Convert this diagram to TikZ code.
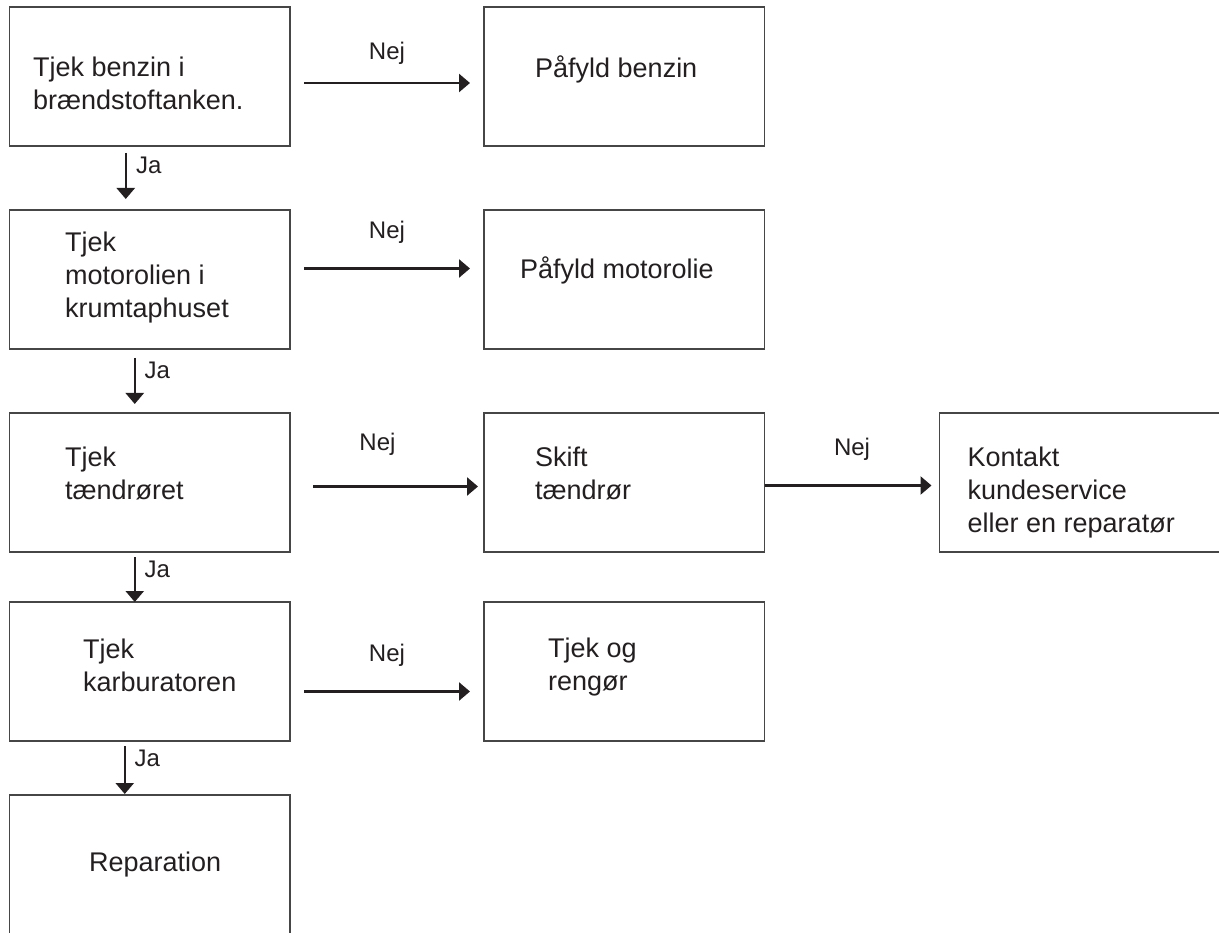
\documentclass[tikz,border=0pt]{standalone}
\usepackage{fontspec}
\setmainfont{Liberation Sans}
\usetikzlibrary{arrows.meta, positioning}
\definecolor{ink}{RGB}{35, 31, 32}
\definecolor{frame}{RGB}{70, 70, 70}

\begin{document}
\begin{tikzpicture}[
        x=1pt, y=-1pt,
        node distance=64pt and 194pt,
        box/.style={rectangle, draw=frame, line width=1.3pt, inner sep=0pt, outer sep=0pt,
                    minimum width=280.5pt, minimum height=139pt},
        txt/.style={anchor=base west, inner sep=0pt, align=left, text=ink,
                    font=\fontsize{27}{33}\selectfont},
        lbl/.style={inner sep=0pt, text=ink, font=\fontsize{24}{28}\selectfont},
        arrow/.style={-{Triangle[length=11pt, width=18pt]}, line width=2.5pt, draw=ink},
    ]
        \useasboundingbox (0,0) rectangle (1219,933);

        % boxes
        \node[box] (tank) at (149.75,76.5) {};
        \node[box, right=of tank] (fuel) {};
        \node[box, below=of tank] (oil) {};
        \node[box, right=of oil] (refill) {};
        \node[box, below=of oil] (plug) {};
        \node[box, right=of plug] (swap) {};
        \node[box, right=175pt of swap] (service) {};
        \node[box, below=50pt of plug] (carb) {};
        \node[box, right=of carb] (clean) {};
        \node[box, below=54pt of carb] (repair) {};

        % texts (base = baseline of the last line)
        \node[txt] (tanktxt) at ([xshift=23.5pt, yshift=-103pt]tank.north west) {Tjek benzin i\\brændstoftanken.};
        \node[txt] (fueltxt) at ([xshift=51pt, yshift=-71pt]fuel.north west) {Påfyld benzin};
        \node[txt] (oiltxt) at ([xshift=55.5pt, yshift=-108pt]oil.north west) {Tjek\\motorolien i\\krumtaphuset};
        \node[txt] (refilltxt) at ([xshift=36pt, yshift=-69pt]refill.north west) {Påfyld motorolie};
        \node[txt] (plugtxt) at ([xshift=55.5pt, yshift=-86pt]plug.north west) {Tjek\\tændrøret};
        \node[txt] (swaptxt) at ([xshift=51pt, yshift=-86pt]swap.north west) {Skift\\tændrør};
        \node[txt] (servicetxt) at ([xshift=28pt, yshift=-119pt]service.north west) {Kontakt\\kundeservice\\eller en reparatør};
        \node[txt] (carbtxt) at ([xshift=73.5pt, yshift=-89pt]carb.north west) {Tjek\\karburatoren};
        \node[txt] (cleantxt) at ([xshift=64pt, yshift=-88pt]clean.north west) {Tjek og\\rengør};
        \node[txt] (repairtxt) at ([xshift=79.5pt, yshift=-76pt]repair.north west) {Reparation};

        % Nej arrows
        \draw[arrow, shorten <=14pt, shorten >=14pt] ([yshift=-6.5pt]tank.east) --
            node[lbl, yshift=29.5pt] (nej1) {Nej} ([yshift=-6.5pt]fuel.west);
        \draw[arrow, shorten <=14pt, shorten >=14pt] ([yshift=11pt]oil.east) --
            node[lbl, yshift=36pt] (nej2) {Nej} ([yshift=11pt]refill.west);
        \draw[arrow, shorten <=23pt, shorten >=6pt] ([yshift=-4pt]plug.east) --
            node[lbl, xshift=-9.5pt, yshift=42pt] (nej3) {Nej} ([yshift=-4pt]swap.west);
        \draw[arrow, shorten >=8pt] ([yshift=-3pt]swap.east) --
            node[lbl, yshift=36pt] (nej4) {Nej} ([yshift=-3pt]service.west);
        \draw[arrow, shorten <=14pt, shorten >=14pt] ([yshift=-20pt]carb.east) --
            node[lbl, yshift=36.5pt] (nej5) {Nej} ([yshift=-20pt]clean.west);

        % Ja arrows
        \draw[arrow, shorten <=7pt, shorten >=11pt] ([xshift=-24pt]tank.south) --
            node[lbl, pos=0, xshift=23pt, yshift=-19pt] (ja1) {Ja} ([xshift=-24pt]oil.north);
        \draw[arrow, shorten <=9pt, shorten >=9pt] ([xshift=-15pt]oil.south) --
            node[lbl, pos=0, xshift=22.5pt, yshift=-21pt] (ja2) {Ja} ([xshift=-15pt]plug.north);
        \draw[arrow, shorten <=5pt] ([xshift=-15pt]plug.south) --
            node[lbl, pos=0, xshift=22.5pt, yshift=-17pt] (ja3) {Ja} ([xshift=-15pt]carb.north);
        \draw[arrow, shorten <=5pt, shorten >=1pt] ([xshift=-25pt]carb.south) --
            node[lbl, pos=0, xshift=22.5pt, yshift=-17pt] (ja4) {Ja} ([xshift=-25pt]repair.north);

    \end{tikzpicture}
\end{document}
